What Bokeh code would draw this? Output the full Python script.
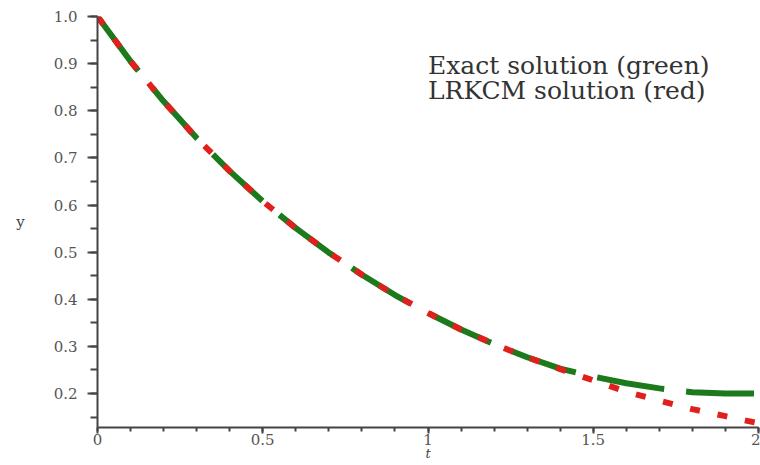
from bokeh.plotting import figure
from bokeh.models import FixedTicker, Label
from bokeh.embed import file_html
from bokeh.resources import INLINE

# Data
t_values = [0.0, 0.1, 0.2, 0.3, 0.4, 0.5, 0.6, 0.7, 0.8, 0.9, 1.0,
            1.1, 1.2, 1.3, 1.4, 1.5, 1.6, 1.7, 1.8, 1.9, 2.0]
exact_values = [1.0, 0.905, 0.82, 0.742, 0.672, 0.608, 0.551, 0.499, 0.452, 0.409, 0.371,
                0.336, 0.305, 0.277, 0.253, 0.236, 0.222, 0.211, 0.203, 0.2, 0.2]
lrkcm_values = [1.0, 0.905, 0.82, 0.742, 0.672, 0.608, 0.551, 0.499, 0.452, 0.409, 0.371,
                0.336, 0.305, 0.277, 0.252, 0.228, 0.204, 0.185, 0.167, 0.152, 0.137]
x_ticks = [0, 0.5, 1, 1.5, 2]
x_tick_labels = ["0", "0.5", "1", "1.5", "2"]
x_minor_ticks = [i / 10 for i in range(21)]
y_ticks = [0.2, 0.3, 0.4, 0.5, 0.6, 0.7, 0.8, 0.9, 1.0]
y_tick_labels = ["0.2", "0.3", "0.4", "0.5", "0.6", "0.7", "0.8", "0.9", "1.0"]
y_minor_ticks = [0.15 + i * 0.05 for i in range(18)]
legend_lines = ["Exact solution (green)", "LRKCM solution (red)"]

p = figure(width=760, height=465, x_range=(0, 2), y_range=(0.128, 1.0),
           output_backend="svg", toolbar_location=None,
           min_border_left=97, min_border_right=2, min_border_top=16, min_border_bottom=38)
p.xgrid.visible = False
p.ygrid.visible = False
p.outline_line_color = None
p.background_fill_color = "white"
p.border_fill_color = "white"

axis_color = "#444444"
for ax in (p.xaxis[0], p.yaxis[0]):
    ax.axis_line_color = axis_color
    ax.axis_line_width = 2
    ax.major_tick_line_color = axis_color
    ax.minor_tick_line_color = axis_color
    ax.major_tick_line_width = 2
    ax.minor_tick_line_width = 2
    ax.major_tick_in = 0
    ax.minor_tick_in = 0
    ax.major_label_text_font = "DejaVu Serif"
    ax.major_label_text_font_size = "15px"
    ax.major_label_text_color = "#555555"
    ax.axis_label_text_font = "DejaVu Serif"
    ax.axis_label_text_color = "#444444"

p.xaxis.ticker = FixedTicker(ticks=x_ticks, minor_ticks=x_minor_ticks)
p.xaxis.major_label_overrides = {float(k): v for k, v in zip(x_ticks, x_tick_labels)}
p.xaxis.major_tick_out = 6
p.xaxis.minor_tick_out = 4
p.xaxis.major_label_standoff = 0
p.xaxis.axis_label = "t"
p.xaxis.axis_label_text_font_style = "italic"
p.xaxis.axis_label_text_font_size = "13px"
p.xaxis.axis_label_standoff = -2

p.yaxis.ticker = FixedTicker(ticks=y_ticks, minor_ticks=y_minor_ticks)
p.yaxis.major_label_overrides = {float(k): v for k, v in zip(y_ticks, y_tick_labels)}
p.yaxis.major_tick_out = 10
p.yaxis.minor_tick_out = 7
p.yaxis.major_label_standoff = 10
p.yaxis.axis_label = "y"
p.yaxis.axis_label_orientation = "horizontal"
p.yaxis.axis_label_text_font_style = "normal"
p.yaxis.axis_label_text_font_size = "15px"
p.yaxis.axis_label_standoff = 26

p.line(t_values, exact_values, line_color="#1c7a1c", line_width=6, line_dash="68 22")
p.line(t_values, lrkcm_values, line_color="#e0201c", line_width=6, line_dash="10 18")

p.add_layout(Label(x=1.0, y=0.896, text=legend_lines[0], text_font="DejaVu Serif",
                   text_font_size="25px", text_color="#333333", text_baseline="alphabetic"))
p.add_layout(Label(x=1.0, y=0.843, text=legend_lines[1], text_font="DejaVu Serif",
                   text_font_size="25px", text_color="#333333", text_baseline="alphabetic"))

open("out.html", "w").write(file_html(p, INLINE))
